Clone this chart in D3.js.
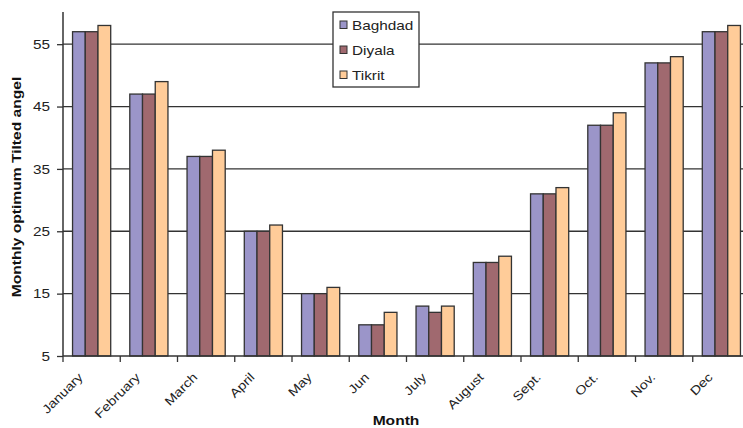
<!DOCTYPE html>
<html>
<head>
<meta charset="utf-8">
<script src="https://cdn.jsdelivr.net/npm/d3@7"></script>
<style>
  html, body { margin: 0; padding: 0; background: #fff; }
  svg { display: block; font-family: "Liberation Sans", Arial, sans-serif; }
</style>
</head>
<body>
<svg id="chart" width="743" height="428"></svg>
<script>
// Monthly optimum tilt angle (degrees) for three Iraqi cities
const months = ["January", "February", "March", "April", "May", "Jun", "July", "August", "Sept.", "Oct.", "Nov.", "Dec"];
const baghdad = [57, 47, 37, 25, 15, 10, 13, 20, 31, 42, 52, 57];
const diyala  = [57, 47, 37, 25, 15, 10, 12, 20, 31, 42, 52, 57];
const tikrit  = [58, 49, 38, 26, 16, 12, 13, 21, 32, 44, 53, 58];
const cities = ["Baghdad", "Diyala", "Tikrit"];
const yTicks = [5, 15, 25, 35, 45, 55];

const series = [baghdad, diyala, tikrit];
const colors = ["#9b95c9", "#a0696f", "#ffcc99"];

// text in this chart is set slightly wide
const stretch = 1.18;

const svg = d3.select("#chart");
const plotLeft = 63, plotRight = 750, plotTop = 13, plotBottom = 356;

const x = d3.scaleBand().domain(months).range([plotLeft, plotRight]).paddingInner(0).paddingOuter(0);
const x1 = d3.scaleBand().domain(cities).range([0, x.bandwidth()]).paddingInner(0).paddingOuter(0.75);
const y = d3.scaleLinear().domain([5, 60]).range([plotBottom, plotTop]);

// horizontal gridlines
svg.append("g")
  .selectAll("line")
  .data(yTicks.filter(d => d > 5))
  .join("line")
  .attr("x1", plotLeft).attr("x2", plotRight)
  .attr("y1", d => y(d)).attr("y2", d => y(d))
  .attr("stroke", "#333").attr("stroke-width", 1.3);

// bars
const groups = svg.append("g")
  .selectAll("g")
  .data(months)
  .join("g")
  .attr("transform", d => `translate(${x(d)},0)`);

groups.selectAll("rect")
  .data((m, i) => cities.map((c, k) => ({ city: c, k, value: series[k][i] })))
  .join("rect")
  .attr("x", d => x1(d.city))
  .attr("width", x1.bandwidth())
  .attr("y", d => y(d.value))
  .attr("height", d => y(5) - y(d.value))
  .attr("fill", d => colors[d.k])
  .attr("stroke", "#333")
  .attr("stroke-width", 1.3);

// y axis
const yAxis = d3.axisLeft(y).tickValues(yTicks).tickSize(6).tickPadding(6).tickFormat(d3.format("d"));
const gy = svg.append("g").attr("transform", `translate(${plotLeft},0)`).call(yAxis);
gy.select(".domain").attr("stroke", "#333").attr("stroke-width", 1.5).attr("d", `M0,${plotTop - 1}V${plotBottom}`);
gy.selectAll(".tick line").attr("stroke", "#333").attr("stroke-width", 1.3);
gy.selectAll(".tick text")
  .attr("x", null)
  .attr("transform", `translate(-13,0) scale(${stretch},1)`)
  .attr("font-size", 13).attr("fill", "#222");

// x axis with ticks on category boundaries
const gx = svg.append("g").attr("transform", `translate(0,${plotBottom})`);
gx.append("line").attr("x1", plotLeft).attr("x2", plotRight).attr("y1", 0).attr("y2", 0)
  .attr("stroke", "#333").attr("stroke-width", 1.5);
gx.selectAll("line.tk")
  .data(months)
  .join("line")
  .attr("class", "tk")
  .attr("x1", d => x(d)).attr("x2", d => x(d))
  .attr("y1", 0).attr("y2", 6)
  .attr("stroke", "#333").attr("stroke-width", 1.3);
gx.selectAll("text")
  .data(months)
  .join("text")
  .attr("transform", d => `translate(${x(d) + x.bandwidth() / 2 - 8},${22}) rotate(-45) scale(${stretch},1)`)
  .attr("text-anchor", "end")
  .attr("font-size", 12.3)
  .attr("fill", "#222")
  .text(d => d);

// axis titles
svg.append("text")
  .attr("transform", `translate(20.5,${187}) rotate(-90) scale(1.2,1)`)
  .attr("text-anchor", "middle")
  .attr("font-size", 13).attr("font-weight", "bold").attr("fill", "#111")
  .text("Monthly optimum Tilted angel");

svg.append("text")
  .attr("transform", `translate(396,425) scale(1.2,1)`)
  .attr("text-anchor", "middle")
  .attr("font-size", 13).attr("font-weight", "bold").attr("fill", "#111")
  .text("Month");

// legend
const lg = svg.append("g").attr("transform", "translate(333,12)");
lg.append("rect").attr("width", 86).attr("height", 75)
  .attr("fill", "#fff").attr("stroke", "#333").attr("stroke-width", 1.3);
const items = lg.selectAll("g.item")
  .data(cities)
  .join("g")
  .attr("class", "item")
  .attr("transform", (d, i) => `translate(7,${13 + i * 25})`);
items.append("rect")
  .attr("x", 0).attr("y", -4).attr("width", 7).attr("height", 7.5)
  .attr("fill", (d, i) => colors[i]).attr("stroke", "#333").attr("stroke-width", 1);
items.append("text")
  .attr("transform", `translate(12,0) scale(${stretch},1)`)
  .attr("dy", "0.35em")
  .attr("font-size", 13).attr("fill", "#222")
  .text(d => d);
</script>
</body>
</html>
